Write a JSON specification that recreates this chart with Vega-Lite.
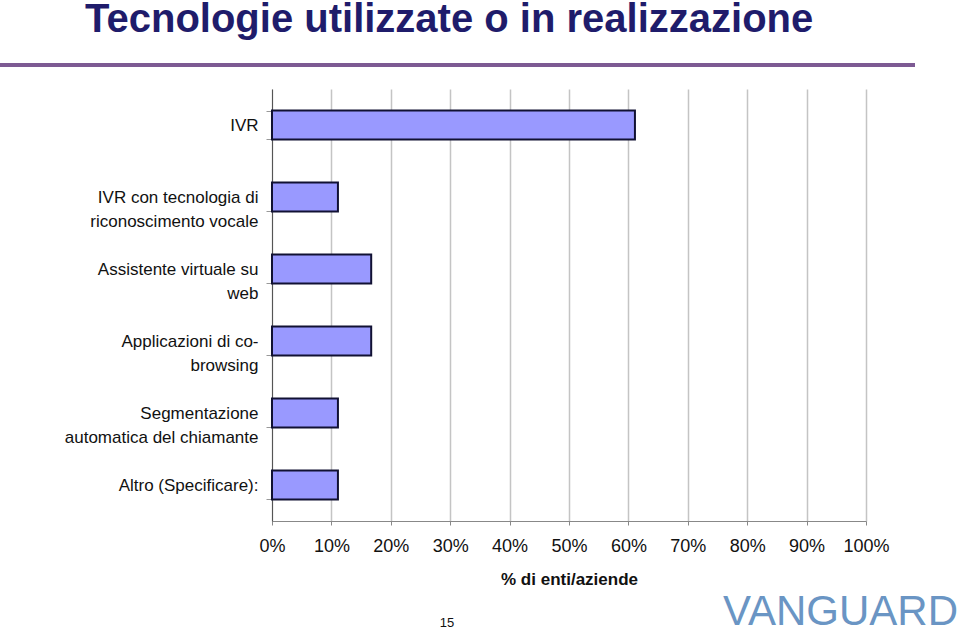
{
  "$schema": "https://vega.github.io/schema/vega-lite/v6.json",
  "padding": 0,
  "background": "white",
  "title": {
    "text": "Tecnologie utilizzate o in realizzazione",
    "anchor": "start",
    "frame": "bounds",
    "dx": 85,
    "dy": 2,
    "font": "Liberation Sans",
    "fontSize": 40,
    "fontWeight": "bold",
    "color": "#1F1C6B",
    "offset": 25
  },
  "vconcat": [
    {
      "title": {
        "text": "VANGUARD",
        "orient": "bottom",
        "anchor": "end",
        "frame": "bounds",
        "dx": 43,
        "dy": -38,
        "offset": 0,
        "font": "Liberation Sans",
        "fontSize": 42,
        "fontWeight": "normal",
        "color": "#6A95C4"
      },
      "spacing": 13,
      "vconcat": [
        {
          "width": 915,
          "height": 4,
          "data": {"values": [{"deco": "line"}]},
          "mark": {"type": "rect", "color": "#7D5A93"}
        },
        {
          "width": 866,
          "height": 432,
          "title": {
            "text": "15",
            "orient": "bottom",
            "anchor": "middle",
            "frame": "group",
            "dx": 14,
            "offset": 30,
            "fontSize": 13,
            "fontWeight": "normal",
            "color": "#111111"
          },
          "data": {
            "values": [
              {"tecnologia": "IVR", "valore": 0.611},
              {"tecnologia": "IVR con tecnologia di|riconoscimento vocale", "valore": 0.111},
              {"tecnologia": "Assistente virtuale su|web", "valore": 0.167},
              {"tecnologia": "Applicazioni di co-|browsing", "valore": 0.167},
              {"tecnologia": "Segmentazione|automatica del chiamante", "valore": 0.111},
              {"tecnologia": "Altro (Specificare):", "valore": 0.111}
            ]
          },
          "mark": {"type": "bar", "color": "#9999FF", "stroke": "#111133", "strokeWidth": 2},
          "encoding": {
            "y": {
              "field": "tecnologia",
              "type": "nominal",
              "sort": null,
              "scale": {"paddingInner": 0.6, "paddingOuter": 0.3},
              "axis": {
                "title": null,
                "offset": -272,
                "grid": false,
                "domainColor": "#555555",
                "tickColor": "#999999",
                "tickSize": 6,
                "tickBand": "extent",
                "labelPadding": 8,
                "labelFontSize": 17,
                "labelColor": "#111111",
                "labelLimit": 400,
                "labelLineHeight": 24,
                "labelExpr": "isValid(datum.value) ? split(datum.value, '|') : ''"
              }
            },
            "x": {
              "field": "valore",
              "type": "quantitative",
              "scale": {"domain": [-0.45791, 1], "nice": false, "zero": true},
              "axis": {
                "title": "% di enti/aziende",
                "titleX": 569,
                "values": [0, 0.1, 0.2, 0.3, 0.4, 0.5, 0.6, 0.7, 0.8, 0.9, 1],
                "format": ".0%",
                "labelOverlap": false,
                "labelFlush": false,
                "grid": true,
                "gridColor": "#C4C4C4",
                "gridWidth": 1.5,
                "domainColor": "#888888",
                "domainDash": [0, 272, 600],
                "tickColor": "#888888",
                "tickSize": 4,
                "labelPadding": 12,
                "labelFontSize": 18,
                "labelColor": "#111111",
                "titleFontSize": 17,
                "titleFontWeight": "bold",
                "titleColor": "#111111",
                "titlePadding": 16
              }
            }
          }
        }
      ]
    }
  ],
  "config": {
    "font": "Liberation Sans",
    "view": {"stroke": null}
  }
}
